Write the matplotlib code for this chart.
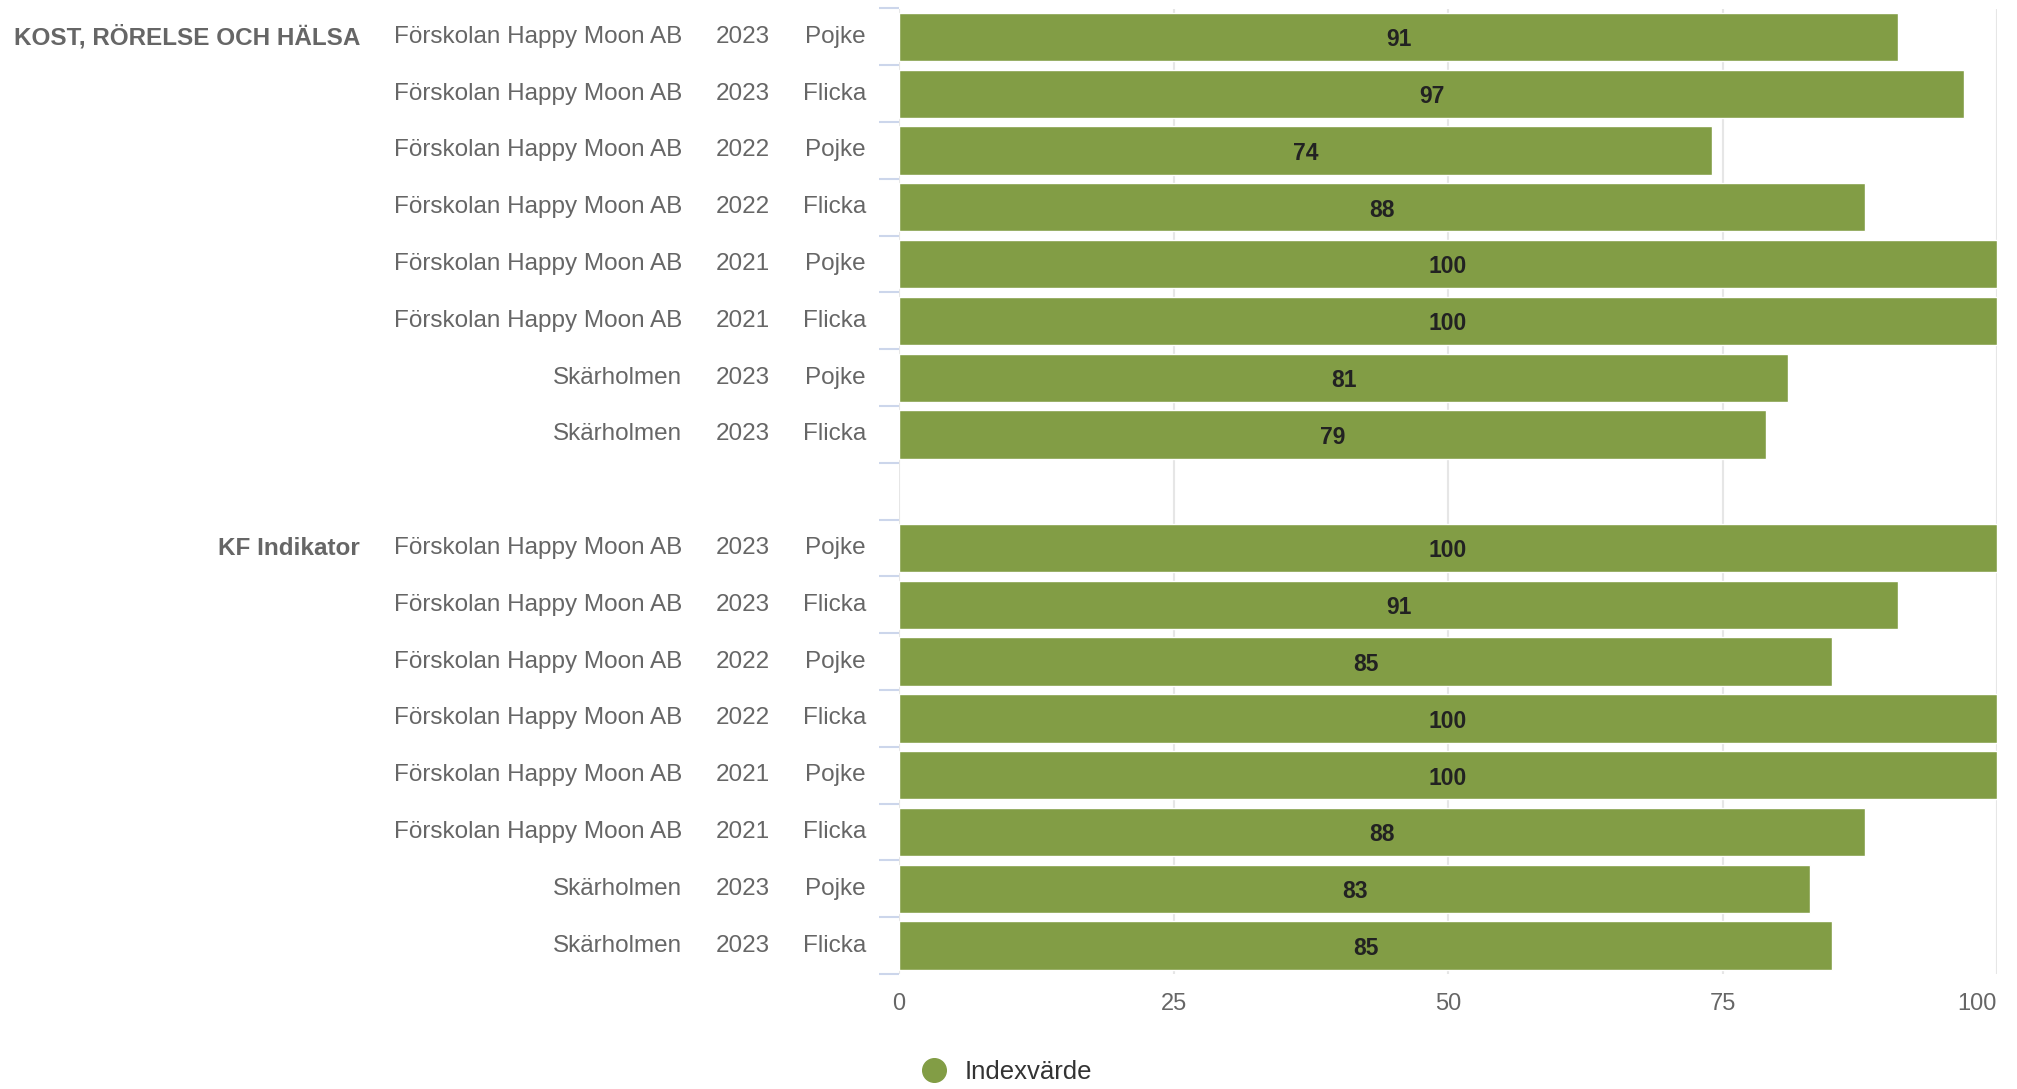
import numpy as np
import matplotlib.pyplot as plt
from matplotlib.lines import Line2D

plt.rcParams['font.family'] = ['Liberation Sans', 'DejaVu Sans']

# Données
groupes = ['KOST, RÖRELSE OCH HÄLSA', 'KF Indikator']
enheter = ['Förskolan Happy Moon AB'] * 6 + ['Skärholmen'] * 2
annees = ['2023', '2023', '2022', '2022', '2021', '2021', '2023', '2023']
kon = ['Pojke', 'Flicka', 'Pojke', 'Flicka', 'Pojke', 'Flicka', 'Pojke', 'Flicka']
valeurs_kost = [91, 97, 74, 88, 100, 100, 81, 79]
valeurs_kf = [100, 91, 85, 100, 100, 88, 83, 85]
x_ticks = [0, 25, 50, 75, 100]
serie = 'Indexvärde'

couleur = '#829d45'
gris = '#666666'

fig = plt.figure(figsize=(20.17, 10.89), dpi=100)
ax = fig.add_axes([899 / 2017, 115 / 1089, 1098 / 2017, 965.5 / 1089])

n = len(enheter)
# deux groupes séparés par une ligne vide
y_kost = np.arange(n)
y_kf = np.arange(n) + n + 1
y_all = np.concatenate([y_kost, y_kf])
v_all = valeurs_kost + valeurs_kf

ax.barh(y_all, v_all, height=0.85, color=couleur, edgecolor='white', linewidth=1, zorder=3)

for y, v in zip(y_all, v_all):
    ax.text(v / 2, y + 0.05, f'{v}', ha='center', va='center', fontsize=16.5,
            fontweight='bold', color='#222222', zorder=4)

ax.set_xlim(0, 100)
ax.set_ylim(2 * n + 0.5, -0.5)

# Graduations de catégories (limites des lignes)
bornes = list(np.arange(n + 1) - 0.5) + list(np.arange(n + 1) + n + 0.5)
ax.set_yticks(bornes)
ax.set_yticklabels([])
ax.tick_params(axis='y', length=14.4, width=1.5, color='#ccd6eb')

ax.set_xticks(x_ticks)
ax.set_xticklabels([str(t) for t in x_ticks])
ax.tick_params(axis='x', length=0, pad=14, labelsize=17, labelcolor=gris)
ax.get_xticklabels()[-1].set_horizontalalignment('right')

ax.grid(axis='x', color='#e6e6e6', linewidth=1.5, zorder=0)
for s in ax.spines.values():
    s.set_visible(False)

# Étiquettes de catégories groupées
trans = ax.get_yaxis_transform()
fs = 17.5
for decal, grp in zip([0, n + 1], groupes):
    ax.text(-0.491, decal, grp, transform=trans, ha='right', va='center',
            fontsize=fs, fontweight='bold', color=gris)
    for i in range(n):
        y = decal + i
        ax.text(-0.030, y, kon[i], transform=trans, ha='right', va='center', fontsize=fs, color=gris)
        ax.text(-0.1175, y, annees[i], transform=trans, ha='right', va='center', fontsize=fs, color=gris)
        ax.text(-0.1976, y, enheter[i], transform=trans, ha='right', va='center', fontsize=fs, color=gris)

handle = Line2D([], [], marker='o', linestyle='', markersize=17, color=couleur)
fig.legend([handle], [serie], loc='center left', bbox_to_anchor=(921 / 2017, 17 / 1089),
           frameon=False, fontsize=18.5, handlelength=1, handletextpad=0.7,
           borderpad=0, borderaxespad=0, labelcolor='#333333')

fig.savefig('out.png', dpi=100)
